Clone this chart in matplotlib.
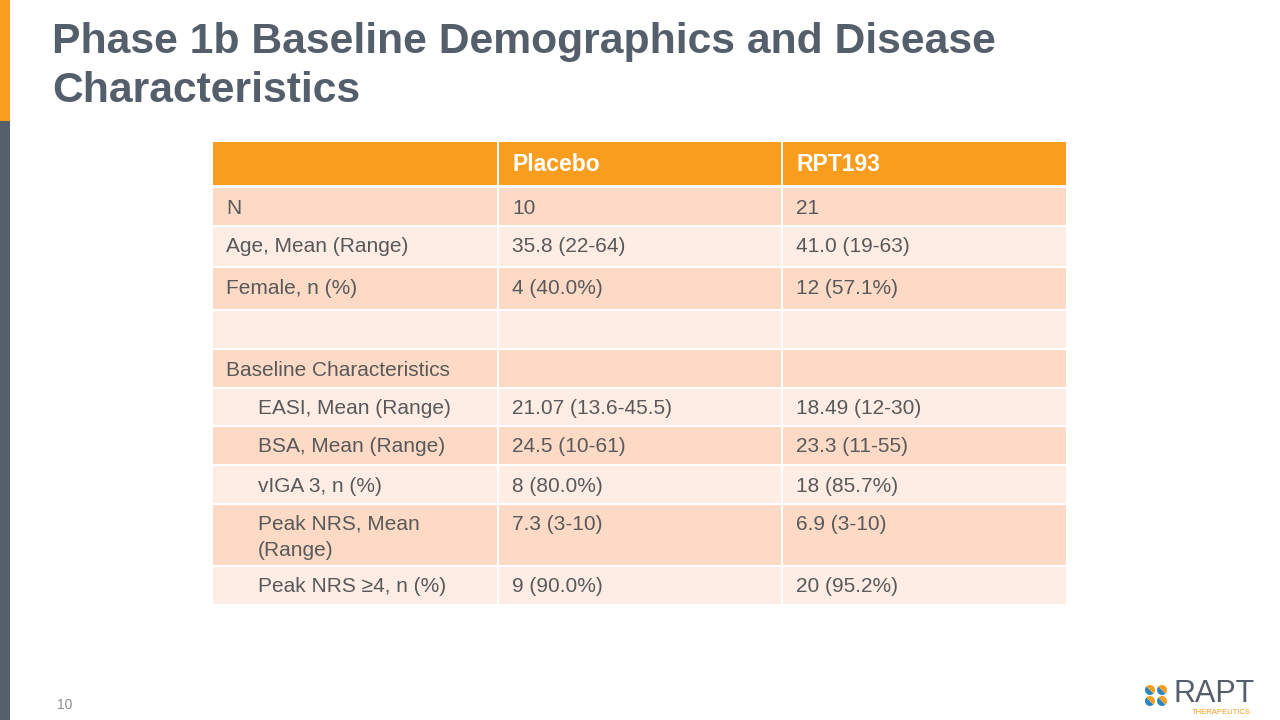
import matplotlib.pyplot as plt
from matplotlib.patches import Rectangle, Wedge

plt.rcParams['font.family'] = ['Liberation Sans', 'DejaVu Sans']

# table content
title = 'Phase 1b Baseline Demographics and Disease\nCharacteristics'
col_headers = ['', 'Placebo', 'RPT193']
row_labels = ['N', 'Age, Mean (Range)', 'Female, n (%)', '', 'Baseline Characteristics',
              'EASI, Mean (Range)', 'BSA, Mean (Range)', 'vIGA 3, n (%)',
              'Peak NRS, Mean\n(Range)', 'Peak NRS \u22654, n (%)']
placebo = ['10', '35.8 (22-64)', '4 (40.0%)', '', '', '21.07 (13.6-45.5)',
           '24.5 (10-61)', '8 (80.0%)', '7.3 (3-10)', '9 (90.0%)']
rpt193 = ['21', '41.0 (19-63)', '12 (57.1%)', '', '', '18.49 (12-30)',
          '23.3 (11-55)', '18 (85.7%)', '6.9 (3-10)', '20 (95.2%)']
indented = [False, False, False, False, False, True, True, True, True, True]
page_no = '10'

# layout in pixels
col_x = [213, 499, 783]
col_w = [284, 282, 283]
header_top, header_h = 142, 43
row_tops = [188, 227, 268, 311, 350, 389, 427, 466, 505, 567]
row_bots = [225, 266, 309, 348, 387, 425, 464, 503, 565, 604]

ORANGE = '#F99D1F'
DARK = '#FCDAC6'
LIGHT = '#FDEDE5'
GREY = '#555F6B'
TXT = '#595959'

fig = plt.figure(figsize=(12.8, 7.2), dpi=100)
ax = fig.add_axes([0, 0, 1, 1])
ax.set_xlim(0, 1280)
ax.set_ylim(720, 0)
ax.axis('off')

# side bar
ax.add_patch(Rectangle((0, 0), 10, 121, color=ORANGE, lw=0))
ax.add_patch(Rectangle((0, 121), 10, 599, color=GREY, lw=0))

ax.text(52, 22, title, fontsize=30.7, fontweight='bold', color=GREY,
        va='top', ha='left', linespacing=1.29)

# header
for j in range(3):
    ax.add_patch(Rectangle((col_x[j], header_top), col_w[j], header_h, color=ORANGE, lw=0))
    ax.text(col_x[j] + 13, header_top + header_h / 2 + 1, col_headers[j], color='white',
            fontsize=16.5, fontweight='bold', va='center', ha='left')

# body
for i, lab in enumerate(row_labels):
    top, bot = row_tops[i], row_bots[i]
    fc = DARK if i % 2 == 0 else LIGHT
    cells = [lab, placebo[i], rpt193[i]]
    for j in range(3):
        ax.add_patch(Rectangle((col_x[j], top), col_w[j], bot - top, color=fc, lw=0))
        x = col_x[j] + 13
        if j == 0 and indented[i]:
            x += 32
        if '\n' in cells[j]:
            ax.text(x, top + 9, cells[j], color=TXT, fontsize=15, va='top', ha='left',
                    linespacing=1.5)
        else:
            ax.text(x, top + 20, cells[j], color=TXT, fontsize=15, va='center', ha='left')

ax.text(57, 705, page_no, color='#8c8c8c', fontsize=10, va='center', ha='left')

# logo
blue = '#2E86C1'
for cx, cy in [(1150, 690), (1162, 690), (1150, 701), (1162, 701)]:
    ax.add_patch(Wedge((cx, cy), 5, 45, 225, color=blue, lw=0))
    ax.add_patch(Wedge((cx, cy), 5, 225, 405, color=ORANGE, lw=0))
ax.text(1174, 694, 'RAPT', color=GREY, fontsize=22, va='center', ha='left')
ax.text(1192, 713, 'THERAPEUTICS', color=ORANGE, fontsize=5.5, va='center', ha='left')

fig.savefig('out.png', dpi=100)
